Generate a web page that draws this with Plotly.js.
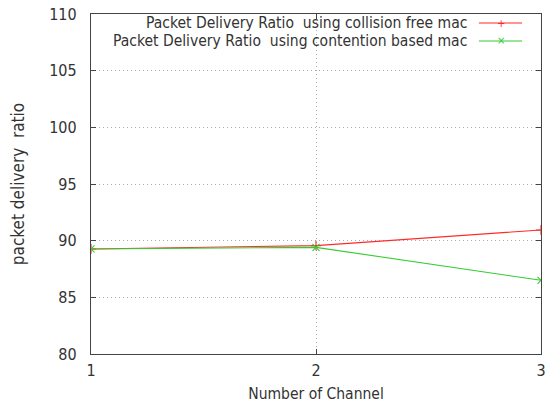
<!DOCTYPE html>
<html>
<head>
<meta charset="utf-8">
<script src="https://cdn.plot.ly/plotly-3.0.1.min.js"></script>
<style>html,body{margin:0;padding:0;background:#fff;}#chart{width:547px;height:404px;}</style>
</head>
<body>
<div id="chart"></div>
<script>
const channels = [1, 2, 3];
const collisionFree = [89.27, 89.56, 90.94];
const contentionBased = [89.27, 89.41, 86.5];
const seriesNames = ["Packet Delivery Ratio \u00a0using collision free mac", "Packet Delivery Ratio \u00a0using contention based mac"];
const seriesColors = ["#ff2a2a", "#33cc33"];
const xTicks = [1, 2, 3];
const yTicks = [80, 85, 90, 95, 100, 105, 110];
const xTitle = "Number of Channel";
const yTitle = "packet delivery \u00a0ratio";

const fam = "DejaVu Sans Condensed, DejaVu Sans, sans-serif";
const tickFont = {family: fam, size: 16, color: "#333"};
const legFont = {family: fam, size: 15.5, color: "#333"};

const traces = [
  {x: channels, y: collisionFree, mode: "lines+markers", name: seriesNames[0],
   line: {color: seriesColors[0], width: 1.1}, marker: {symbol: "cross-thin-open", size: 7, color: seriesColors[0], line: {width: 1.1, color: seriesColors[0]}}},
  {x: channels, y: contentionBased, mode: "lines+markers", name: seriesNames[1],
   line: {color: seriesColors[1], width: 1.1}, marker: {symbol: "x-thin-open", size: 7, color: seriesColors[1], line: {width: 1.1, color: seriesColors[1]}}}
];

const legY = [0.9735, 0.9206];
const annotations = [];
const shapes = [];
seriesNames.forEach((n, i) => {
  annotations.push({xref: "paper", yref: "paper", x: 0.838, y: legY[i], text: n, showarrow: false,
    xanchor: "right", yanchor: "middle", font: legFont, borderpad: 0});
  shapes.push({type: "line", xref: "paper", yref: "paper", x0: 0.862, x1: 0.958, y0: legY[i], y1: legY[i],
    line: {color: seriesColors[i], width: 1.1}});
  annotations.push({xref: "paper", yref: "paper", x: 0.91, y: legY[i], text: i === 0 ? "+" : "×", showarrow: false,
    xanchor: "center", yanchor: "middle", font: {family: "DejaVu Sans", size: 10, color: seriesColors[i]}});
});

const layout = {
  width: 547, height: 404,
  margin: {l: 91, r: 6, t: 14, b: 50},
  paper_bgcolor: "#fff", plot_bgcolor: "#fff",
  showlegend: false,
  font: tickFont,
  xaxis: {range: [1, 3], tickvals: xTicks, ticktext: xTicks.map(String),
    showline: true, mirror: "ticks", linecolor: "#444", linewidth: 1.2,
    ticks: "inside", ticklen: 5, tickcolor: "#444",
    showgrid: true, gridcolor: "#aaa", griddash: "1px,3px", gridwidth: 1,
    zeroline: false, tickfont: tickFont, ticklabelstandoff: 2,
    title: {text: xTitle, font: {family: fam, size: 15.5, color: "#333"}, standoff: 8}},
  yaxis: {range: [80, 110], tickvals: yTicks, ticktext: yTicks.map(String),
    showline: true, mirror: "ticks", linecolor: "#444", linewidth: 1.2,
    ticks: "inside", ticklen: 5, tickcolor: "#444",
    showgrid: true, gridcolor: "#aaa", griddash: "1px,3px", gridwidth: 1,
    zeroline: false, tickfont: tickFont, ticklabelstandoff: 10,
    title: {text: yTitle, font: {family: fam, size: 17, color: "#333"}, standoff: 20}},
  annotations: annotations,
  shapes: shapes
};

Plotly.newPlot("chart", traces, layout, {displayModeBar: false, staticPlot: true});
</script>
</body>
</html>
